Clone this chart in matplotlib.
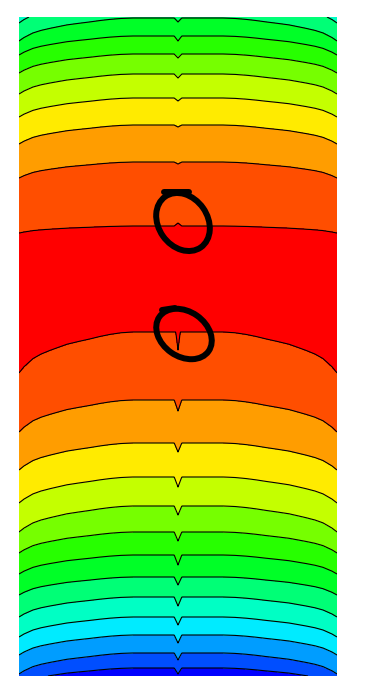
import numpy as np
import matplotlib
matplotlib.use("Agg")
import matplotlib.pyplot as plt
from matplotlib.colors import hsv_to_rgb
from matplotlib.patches import Ellipse

# plot units: x across (0..318), y down from the top (0..659)
width, height = 318, 659

# contour level crossings, mid-line and at the side walls
levels_top = [4, 5, 6, 7, 8, 9, 10, 11, 12, 13]
y_top_mid = [-35, -17, 1, 19, 37, 57, 81, 108, 145, 209]
y_top_wall = [-12, 6, 24, 38, 56, 77, 100, 127, 161, 216]
notch_top = [0, 0, 4, 5, 4, 4, 3, 2, 2, -3]

peak_value = 13.5
peak_mid, peak_wall = 262, 286

levels_bot = [13, 12, 11, 10, 9, 8, 7, 6, 5, 4, 3, 2, 1, 0]
y_bot_mid = [315, 383, 426, 460, 489, 515, 538, 560, 580, 600, 618, 636, 651, 666]
y_bot_wall = [356, 415, 453, 486, 515, 536, 557, 578, 600, 620, 638, 657, 668, 685]
notch_bot = [18, 11, 9, 10, 9, 9, 10, 8, 9, 8, 8, 7, 6, 0]

# how far the wall shape reaches into the plate
wall_dist = [0, 5, 14, 22, 31, 40, 48, 60, 71, 81, 91, 102, 114, 159]
wall_weight = [1.0, 0.85, 0.65, 0.54, 0.45, 0.37, 0.30, 0.23, 0.17, 0.11, 0.06, 0.02, 0.0, 0.0]

values = np.array(levels_top + [peak_value] + levels_bot, dtype=float)
y_mid = np.array(y_top_mid + [peak_mid] + y_bot_mid, dtype=float)
y_wall = np.array(y_top_wall + [peak_wall] + y_bot_wall, dtype=float)
notch = np.array(notch_top + [0] + notch_bot, dtype=float)
notch_hw = np.full(len(values), 3.8)
notch_hw[len(levels_top) + 1] = 2.3  # the sharp spike under the red band

xs = np.linspace(0, width, 2 * width + 1)
ys = np.linspace(0, height, 2 * height + 1)
u = np.minimum(xs, width - xs)
w = np.interp(u, wall_dist, wall_weight)

tri = np.clip(1 - np.abs(xs[None, :] - width / 2) / notch_hw[:, None], 0, None)
pts_y = y_mid[:, None] + w[None, :] * (y_wall - y_mid)[:, None] + notch[:, None] * tri

Z = np.empty((len(ys), len(xs)))
for j in range(len(xs)):
    Z[:, j] = np.interp(ys, pts_y[:, j], values)

n_bands = 14
hues = np.linspace(240, 0, n_bands) / 360
band_colors = hsv_to_rgb(np.stack([hues, np.ones(n_bands), np.ones(n_bands)], axis=1))

fig = plt.figure(figsize=(3.82, 6.89), dpi=100)
ax = fig.add_axes([19 / 382, 13 / 689, 318 / 382, 659 / 689])
ax.contourf(xs, ys, Z, levels=np.arange(0, n_bands + 1), colors=band_colors)
ax.contour(xs, ys, Z, levels=np.arange(1, n_bands), colors="k", linewidths=0.8)

# hand drawn circles
ax.add_patch(Ellipse((164, 205), 62, 49, angle=55, fill=False, ec="k", lw=4.3))
ax.add_patch(Ellipse((165, 317), 60, 45, angle=35, fill=False, ec="k", lw=4.3))
ax.plot([145, 170], [175, 175], color="k", lw=4.3, solid_capstyle="round")
ax.plot([143, 156], [293, 291], color="k", lw=4.3, solid_capstyle="round")

ax.set_xlim(0, width)
ax.set_ylim(height, 0)
ax.axis("off")
fig.savefig("out.png", dpi=100)
